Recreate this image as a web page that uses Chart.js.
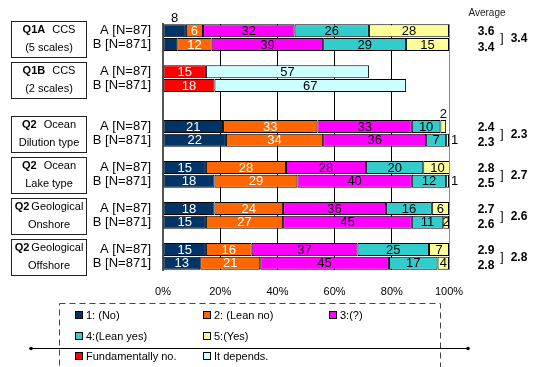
<!DOCTYPE html>
<html>
<head>
<meta charset="utf-8">
<script src="https://cdn.jsdelivr.net/npm/chart.js@4/dist/chart.umd.min.js"></script>
<style>
  html, body { margin: 0; padding: 0; background: #fff; }
  canvas { display: block; }
</style>
</head>
<body>
<canvas id="chart" width="538" height="367"></canvas>
<script>
// rows: A/B per question, blank rows are spacers
const rowLabels = [
  'A [N=87]', 'B [N=871]', '',
  'A [N=87]', 'B [N=871]', '', '',
  'A [N=87]', 'B [N=871]', '',
  'A [N=87]', 'B [N=871]', '',
  'A [N=87]', 'B [N=871]', '',
  'A [N=87]', 'B [N=871]'
];

const no       = [8, 5, null, null, null, null, null, 21, 22, null, 15, 18, null, 18, 15, null, 15, 13];
const leanNo   = [6, 12, null, null, null, null, null, 33, 34, null, 28, 29, null, 24, 27, null, 16, 21];
const unsure   = [32, 39, null, null, null, null, null, 33, 36, null, 28, 40, null, 36, 45, null, 37, 45];
const leanYes  = [26, 29, null, null, null, null, null, 10, 7, null, 20, 12, null, 16, 11, null, 25, 17];
const yes      = [28, 15, null, null, null, null, null, 2, 1, null, 10, 1, null, 6, 2, null, 7, 4];
const fundNo   = [null, null, null, 15, 18, null, null, null, null, null, null, null, null, null, null, null, null, null];
const depends  = [null, null, null, 57, 67, null, null, null, null, null, null, null, null, null, null, null, null, null];

// question boxes on the left
const groupRow   = [0, 3, 7, 10, 13, 16];
const groupTitle = ['Q1A', 'Q1B', 'Q2', 'Q2', 'Q2', 'Q2'];
const groupSub   = ['CCS', 'CCS', 'Ocean', 'Ocean', 'Geological', 'Geological'];
const groupLine2 = ['(5 scales)', '(2 scales)', 'Dilution type', 'Lake type', 'Onshore', 'Offshore'];

// averages (null = none)
const avgA   = [3.6, null, 2.4, 2.8, 2.7, 2.9];
const avgB   = [3.4, null, 2.3, 2.5, 2.6, 2.8];
const avgAll = [3.4, null, 2.3, 2.7, 2.6, 2.8];

const xTicks = [0, 20, 40, 60, 80, 100];

// label placement tweaks  (dataset:row)
const hiddenLabels = ['0:1'];
const aboveLabels = ['0:0', '4:7'];
const whiteText = [0, 1, 5];

const FONT = '"Liberation Sans", Arial, sans-serif';

const dataLabels = {
  id: 'dataLabels',
  afterDatasetsDraw(chart) {
    const ctx = chart.ctx;
    ctx.save();
    ctx.font = '13px ' + FONT;
    ctx.textBaseline = 'middle';
    chart.data.datasets.forEach((ds, di) => {
      chart.getDatasetMeta(di).data.forEach((el, i) => {
        const v = ds.data[i];
        if (v == null) return;
        const key = di + ':' + i;
        if (hiddenLabels.includes(key)) return;
        const left = Math.min(el.x, el.base), right = Math.max(el.x, el.base);
        let x = (left + right) / 2, y = el.y + 0.5;
        ctx.textAlign = 'center';
        ctx.fillStyle = whiteText.includes(di) ? '#fff' : '#000';
        if (aboveLabels.includes(key)) {
          y = el.y - el.height / 2 - 6;
          ctx.fillStyle = '#000';
        } else if (v <= 1) {
          x = right + 2;
          ctx.textAlign = 'left';
          ctx.fillStyle = '#000';
        }
        ctx.fillText(String(v), x, y);
      });
    });
    ctx.restore();
  }
};

const sidePanels = {
  id: 'sidePanels',
  afterDraw(chart) {
    const ctx = chart.ctx;
    const ys = chart.scales.y;
    ctx.save();

    // question boxes
    groupRow.forEach((r, g) => {
      const ya = ys.getPixelForValue(r), yb = ys.getPixelForValue(r + 1);
      const cy = (ya + yb) / 2 + 1;
      ctx.strokeStyle = '#222';
      ctx.lineWidth = 1;
      ctx.strokeRect(11.5, Math.round(cy - 18) + 0.5, 75, 36);
      ctx.fillStyle = '#000';
      ctx.textBaseline = 'middle';
      ctx.font = 'bold 11px ' + FONT;
      const tw = ctx.measureText(groupTitle[g]).width;
      ctx.font = '11px ' + FONT;
      const sw = ctx.measureText(groupSub[g]).width;
      const gap = groupSub[g].length > 6 ? 2 : 7;
      let x0 = 49 - (tw + gap + sw) / 2;
      ctx.textAlign = 'left';
      ctx.font = 'bold 11px ' + FONT;
      ctx.fillText(groupTitle[g], x0, cy - 9);
      ctx.font = '11px ' + FONT;
      ctx.fillText(groupSub[g], x0 + tw + gap, cy - 9);
      ctx.textAlign = 'center';
      ctx.fillText(groupLine2[g], 49, cy + 9);

      // averages
      if (avgA[g] != null) {
        ctx.font = 'bold 12px ' + FONT;
        ctx.fillText(avgA[g].toFixed(1), 486, ya + 1);
        ctx.fillText(avgB[g].toFixed(1), 486, yb + 3);
        ctx.font = '12px ' + FONT;
        ctx.fillText(']', 502, (ya + yb) / 2 + 1);
        ctx.font = 'bold 12px ' + FONT;
        ctx.fillText(avgAll[g].toFixed(1), 519, (ya + yb) / 2 + 1);
      }
    });

    ctx.font = '10px ' + FONT;
    ctx.textAlign = 'center';
    ctx.fillStyle = '#222';
    ctx.fillText('Average', 487, 13);

    // legend
    ctx.strokeStyle = '#444';
    ctx.setLineDash([6, 4]);
    ctx.strokeRect(59.5, 303.5, 381, 120);
    ctx.setLineDash([]);
    ctx.strokeStyle = '#000';
    ctx.beginPath();
    ctx.moveTo(31, 348.5);
    ctx.lineTo(468, 348.5);
    ctx.stroke();
    ctx.fillStyle = '#000';
    [31, 468].forEach(x => { ctx.beginPath(); ctx.arc(x, 348.5, 1.8, 0, Math.PI * 2); ctx.fill(); });

    const layout = [[0, 1, 2], [3, 4], [5, 6]];
    const colX = [75, 203, 329];
    const rowY = [315, 336, 356];
    ctx.font = '11px ' + FONT;
    ctx.textAlign = 'left';
    layout.forEach((row, ri) => {
      row.forEach((di, ci) => {
        const ds = chart.data.datasets[di];
        ctx.fillStyle = ds.backgroundColor;
        ctx.fillRect(colX[ci] + 0.5, rowY[ri] - 3.5, 7, 7);
        ctx.strokeStyle = '#000';
        ctx.strokeRect(colX[ci] + 0.5, rowY[ri] - 3.5, 7, 7);
        ctx.fillStyle = '#000';
        ctx.fillText(ds.label, colX[ci] + 11, rowY[ri] + 0.5);
      });
    });
    ctx.restore();
  }
};

const mk = (label, data, color) => ({
  label, data, backgroundColor: color, borderColor: '#000', borderWidth: 1,
  borderSkipped: false, barPercentage: 0.95, categoryPercentage: 1
});

new Chart(document.getElementById('chart').getContext('2d'), {
  type: 'bar',
  data: {
    labels: rowLabels,
    datasets: [
      mk('1: (No)', no, '#003366'),
      mk('2: (Lean no)', leanNo, '#FF6600'),
      mk('3:(?)', unsure, '#FF00FF'),
      mk('4:(Lean yes)', leanYes, '#33CCCC'),
      mk('5:(Yes)', yes, '#FFFF99'),
      mk('Fundamentally no.', fundNo, '#FF0000'),
      mk('It depends.', depends, '#CCFFFF')
    ]
  },
  options: {
    indexAxis: 'y',
    responsive: false,
    animation: false,
    layout: { padding: { left: 0, right: 89, top: 24, bottom: 0 } },
    plugins: { legend: { display: false }, tooltip: { enabled: false } },
    scales: {
      x: {
        stacked: true, min: 0, max: 100,
        afterBuildTicks: s => { s.ticks = xTicks.map(v => ({ value: v })); },
        border: { display: false },
        grid: {
          drawTicks: false,
          color: c => c.tick.value === 0 ? 'rgba(0,0,0,0)' : (c.tick.value === 100 ? '#888' : '#000')
        },
        ticks: { padding: 15, color: '#000', font: { family: FONT, size: 11 }, callback: v => v + '%' },
        afterFit: s => { s.height = 97; }
      },
      y: {
        stacked: true, offset: true,
        border: { color: '#555', width: 2 },
        grid: { drawOnChartArea: false, drawTicks: false },
        ticks: { autoSkip: false, padding: 12, color: '#000', font: { family: FONT, size: 13 } },
        afterFit: s => { s.width = 163; }
      }
    }
  },
  plugins: [dataLabels, sidePanels]
});
</script>
</body>
</html>
